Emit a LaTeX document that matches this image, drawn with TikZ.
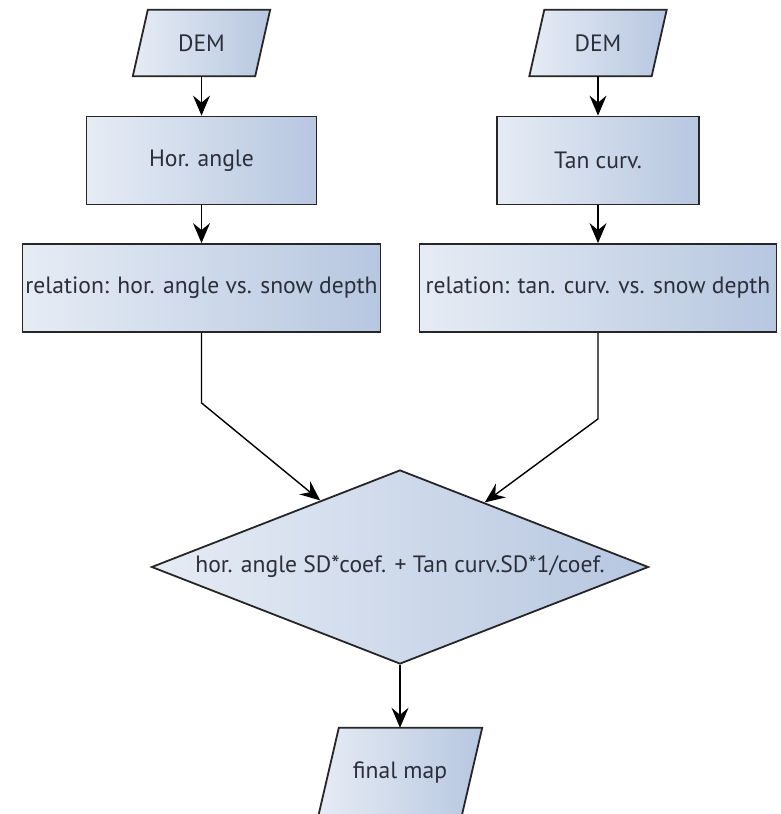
\documentclass[tikz,border=0pt]{standalone}
\usepackage{fontspec}
\setmainfont{PT Sans}
\usetikzlibrary{arrows.meta,shapes.geometric,calc,backgrounds}
\definecolor{boxleft}{HTML}{E6ECF5}
\definecolor{boxright}{HTML}{B7C7E0}
\definecolor{txtcol}{HTML}{2A2F3A}
% slanted input/output box behind a named node: #1 node, #2 slant
\newcommand{\iopath}[2]{%
	\begin{scope}[on background layer]
		\draw[boxline] ($(#1.north west)+(#2,0)$) -- (#1.north east)
			-- ($(#1.south east)+(-#2,0)$) -- (#1.south west) -- cycle;
	\end{scope}}
\begin{document}
\begin{tikzpicture}[x=1pt,y=-1pt,
	boxline/.style={draw=black!85,line width=1.8pt,left color=boxleft,right color=boxright},
	boxtext/.style={text=txtcol,font=\fontsize{23.6}{27}\selectfont,inner sep=0pt},
	procbox/.style={boxline,boxtext,rectangle,minimum height=88pt},
	iobox/.style={boxtext,rectangle},
	decbox/.style={boxline,boxtext,diamond,aspect=2.56,minimum width=497pt,minimum height=194pt},
	flow/.style={line width=1.4pt,-{Stealth[length=20pt,width=17pt,inset=7pt]}}]
	\useasboundingbox (0,0) rectangle (780,814);
	\clip (0,0) rectangle (780,814);
	% inputs
	\node[iobox,minimum width=137pt,minimum height=66pt] (demH) at (201.5,43) {DEM};
	\node[iobox,minimum width=137pt,minimum height=66pt] (demT) at (598,43) {DEM};
	\iopath{demH}{15}
	\iopath{demT}{15}
	% processing
	\node[procbox,minimum width=230pt] (hor) at (201.5,160.5) {Hor. angle};
	\node[procbox,minimum width=202pt] (tan) at (598,160.5) {Tan curv.};
	\node[procbox,minimum width=358pt] (relH) at (201.5,288) {relation: hor. angle vs. snow depth};
	\node[procbox,minimum width=357pt] (relT) at (598,288) {relation: tan. curv. vs. snow depth};
	% combination
	\node[decbox] (comb) at (400,567) {hor. angle SD*coef. + Tan curv.SD*1/coef.};
	\node[iobox,minimum width=164pt,minimum height=90pt] (final) at (400,773) {final map};
	\iopath{final}{21}
	% connectors
	\coordinate (bendH) at ($(relH.south)+(0,70)$);
	\coordinate (bendT) at ($(relT.south)+(0,86)$);
	\draw[flow] (demH) -- (hor);
	\draw[flow] (demT) -- (tan);
	\draw[flow] (hor) -- (relH);
	\draw[flow] (tan) -- (relT);
	\draw[flow] (relH.south) -- (bendH) -- ($(comb.west)!0.68!(comb.north)$);
	\draw[flow] (relT.south) -- (bendT) -- ($(comb.east)!0.66!(comb.north)$);
	\draw[flow] (comb) -- (final);
\end{tikzpicture}
\end{document}
